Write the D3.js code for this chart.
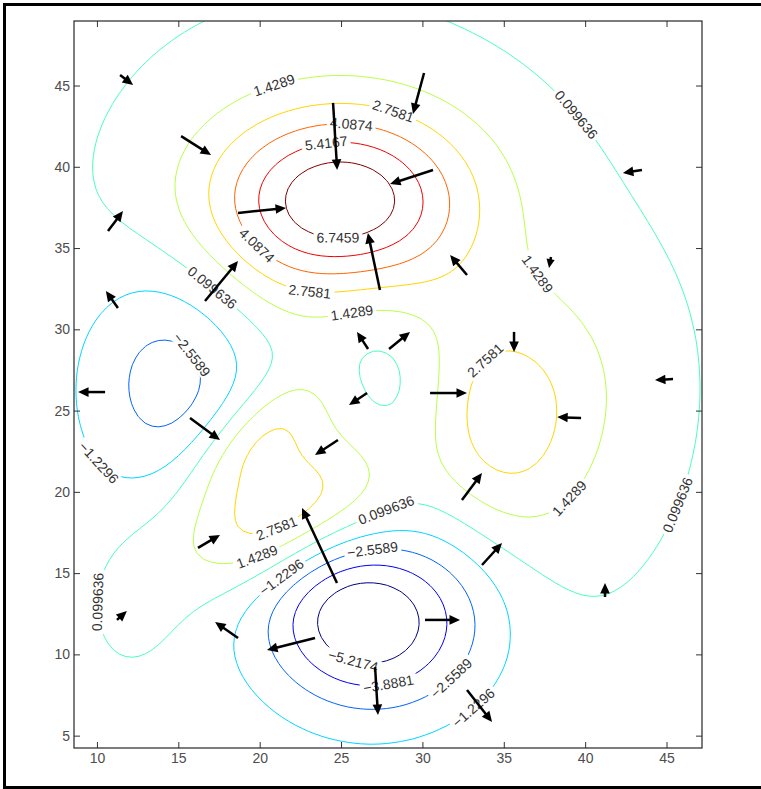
<!DOCTYPE html>
<html lang="en">
<head>
<meta charset="utf-8" />
<title>Contour plot with gradient arrows</title>
<script src="https://d3js.org/d3.v7.min.js"></script>
<style>
body { margin: 0; background: #fff; }
text { font-family: "Liberation Sans", Arial, Helvetica, sans-serif; }
</style>
</head>
<body>
<script>
var xTicks = [10, 15, 20, 25, 30, 35, 40, 45];
var yTicks = [5, 10, 15, 20, 25, 30, 35, 40, 45];
var levels = [-5.2174, -3.8881, -2.5589, -1.2296, 0.099636, 1.4289, 2.7581, 4.0874, 5.4167, 6.7459];
var levelNames = ["\u22125.2174", "\u22123.8881", "\u22122.5589", "\u22121.2296", "0.099636", "1.4289", "2.7581", "4.0874", "5.4167", "6.7459"];

// surface = sum of gaussian bumps (centre, height, widths, tilt)
var bumpX = [24.84, 26.56, 14.66, 19.69, 33.03, 29.73, 28.05, 20.80, 12.43];
var bumpY = [37.86, 12.46, 26.88, 23.22, 22.83, 22.91, 30.40, 18.28, 13.39];
var bumpAmp = [7.54, -7.08, -3.32, 2.67, 3.77, -2.86, 1.65, 4.10, 0.89];
var bumpSx = [5.47, 4.57, 4.00, 3.52, 4.39, 3.02, 19.11, 4.16, 2.33];
var bumpSy = [3.95, 3.93, 5.23, 1.79, 6.18, 7.00, 14.18, 2.65, 3.94];
var bumpAngle = [0.02, -0.25, -0.01, 0.66, -0.70, 0.37, -0.97, 0.47, -0.21];
var base = -0.803;

// gradient arrows: tail and vector
var arrowX = [11.42, 15.17, 10.68, 18.67, 16.64, 11.29, 24.51, 30.10, 30.65, 27.39, 32.74, 37.90, 43.49, 26.66, 27.95, 26.60, 10.50, 15.72, 24.81, 24.75, 16.21, 23.40, 18.67, 30.16, 27.09, 32.74, 11.23, 30.47, 32.43, 35.63, 39.75, 45.40, 33.66, 41.22];
var arrowY = [45.65, 41.89, 36.05, 37.16, 31.74, 31.31, 43.93, 45.77, 39.80, 32.42, 33.34, 34.45, 39.80, 28.79, 28.79, 26.08, 26.14, 24.54, 23.19, 14.39, 16.55, 11.01, 11.01, 12.12, 9.22, 7.81, 12.12, 26.08, 19.50, 29.84, 24.54, 26.94, 15.50, 13.53];
var arrowU = [0.80, 1.84, 0.92, 2.95, 2.03, -0.74, 0.25, -0.68, -2.64, -0.74, -1.04, -0.12, -1.17, -0.68, 1.29, -1.11, -1.66, 1.84, -1.41, -2.15, 1.35, -2.95, -1.41, 2.15, 0.18, 1.54, 0.61, 2.27, 1.23, 0, -1.47, -1.11, 1.23, 0];
var arrowV = [-0.62, -1.17, 1.23, 0.31, 2.46, 1.05, -4.12, -2.52, -0.86, 3.51, 1.23, -0.68, -0.18, 1.05, 1.05, -0.74, 0, -1.35, -0.92, 4.61, 0.80, -0.74, 0.98, 0, -2.95, -1.97, 0.55, 0, 1.66, -1.23, 0.06, -0.06, 1.35, 0.86];

// contour labels: which level and roughly where
var labelLevel = [5, 6, 7, 8, 9, 7, 6, 5, 4, 2, 3, 6, 5, 3, 4, 2, 0, 1, 2, 3, 4, 6, 5, 4, 5, 4];
var labelX = [20.94, 28.19, 25.61, 24.14, 24.81, 19.96, 23.09, 25.67, 17.07, 15.23, 10.43, 21.00, 19.84, 21.56, 27.70, 26.96, 25.86, 27.89, 31.70, 33.05, 10.19, 33.85, 38.95, 46.01, 37.41, 39.87];
var labelY = [44.85, 43.37, 42.33, 41.03, 35.62, 35.31, 32.42, 31.00, 32.54, 27.99, 22.08, 17.84, 15.99, 14.45, 19.07, 16.24, 9.96, 8.30, 8.61, 6.82, 13.22, 28.11, 19.68, 19.07, 33.65, 43.56];

var width = 761, height = 789;
var plot = { left: 74, right: 702, top: 21, bottom: 748 };
var xScale = d3.scaleLinear().domain([8.59, 47.18]).range([plot.left, plot.right]);
var yScale = d3.scaleLinear().domain([4.24, 48.97]).range([plot.bottom, plot.top]);

function field(x, y) {
  var f = base;
  for (var b = 0; b < bumpX.length; b++) {
    var c = Math.cos(bumpAngle[b]), s = Math.sin(bumpAngle[b]);
    var dx = x - bumpX[b], dy = y - bumpY[b];
    var u = dx * c + dy * s, v = -dx * s + dy * c;
    f += bumpAmp[b] * Math.exp(-0.5 * (u * u / (bumpSx[b] * bumpSx[b]) + v * v / (bumpSy[b] * bumpSy[b])));
  }
  return f;
}

// jet colour map over the level range
function jet(t) {
  var cl = function (v) { return Math.max(0, Math.min(1, v)); };
  var r = cl(1.5 - Math.abs(4 * t - 3)), g = cl(1.5 - Math.abs(4 * t - 2)), bl = cl(1.5 - Math.abs(4 * t - 1));
  return d3.rgb(r * 255, g * 255, bl * 255).toString();
}
var colorScale = d3.scaleLinear().domain(d3.extent(levels)).range([0, 1]);
var colorOf = function (v) { return jet(colorScale(v)); };

var svg = d3.select("body").append("svg").attr("width", width).attr("height", height);

// figure frame
svg.append("rect").attr("x", 4.5).attr("y", 4.5).attr("width", 800).attr("height", 783)
  .attr("fill", "none").attr("stroke", "#000").attr("stroke-width", 3);

svg.append("defs").append("clipPath").attr("id", "plotclip").append("rect")
  .attr("x", plot.left).attr("y", plot.top)
  .attr("width", plot.right - plot.left).attr("height", plot.bottom - plot.top);

// sample the surface on a grid a bit larger than the axes, then contour it
var step = 0.4;
var gx0 = xScale.domain()[0] - step, gy0 = yScale.domain()[0] - step;
var nx = Math.ceil((xScale.domain()[1] + step - gx0) / step) + 1;
var ny = Math.ceil((yScale.domain()[1] + step - gy0) / step) + 1;
var values = new Array(nx * ny);
for (var j = 0; j < ny; j++) {
  for (var i = 0; i < nx; i++) values[i + j * nx] = field(gx0 + i * step, gy0 + j * step);
}
var contours = d3.contours().size([nx, ny]).thresholds(levels)(values);

var toPx = function (x, y) {
  return [xScale(gx0 + (x - 0.5) * step), yScale(gy0 + (y - 0.5) * step)];
};
var path = d3.geoPath(d3.geoTransform({
  point: function (x, y) { var q = toPx(x, y); this.stream.point(q[0], q[1]); }
}));

svg.append("g").attr("clip-path", "url(#plotclip)")
  .selectAll("path").data(contours).enter().append("path")
  .attr("d", path)
  .attr("fill", "none")
  .attr("stroke", function (d) { return colorOf(d.value); })
  .attr("stroke-width", 1);

// inline labels, snapped onto their contour line
var labelLayer = svg.append("g");
labelLevel.forEach(function (li, n) {
  var lx = xScale(labelX[n]), ly = yScale(labelY[n]);
  var best = null;
  contours[li].coordinates.forEach(function (poly) {
    poly.forEach(function (ring) {
      var pts = ring.map(function (c) { return toPx(c[0], c[1]); });
      for (var k = 0; k < pts.length - 1; k++) {
        var a = pts[k], bb = pts[k + 1];
        var ex = bb[0] - a[0], ey = bb[1] - a[1], l2 = ex * ex + ey * ey || 1;
        var t = Math.max(0, Math.min(1, ((lx - a[0]) * ex + (ly - a[1]) * ey) / l2));
        var px = a[0] + t * ex, py = a[1] + t * ey;
        var d2 = (px - lx) * (px - lx) + (py - ly) * (py - ly);
        if (!best || d2 < best.d2) best = { d2: d2, px: px, py: py, pts: pts, k: k };
      }
    });
  });
  var px = lx, py = ly, angle = 0;
  if (best && best.d2 < 400) {
    px = best.px; py = best.py;
    var m = best.pts.length - 1;
    var p1 = best.pts[(best.k - 2 + m) % m], p2 = best.pts[(best.k + 3) % m];
    angle = Math.atan2(p2[1] - p1[1], p2[0] - p1[0]) * 180 / Math.PI;
    if (angle >= 90) angle -= 180;
    if (angle < -90) angle += 180;
  }
  var g = labelLayer.append("g").attr("transform", "translate(" + px + "," + py + ") rotate(" + angle + ")");
  var r = g.append("rect").attr("fill", "#fff");
  var tx = g.append("text").text(levelNames[li])
    .attr("text-anchor", "middle").attr("dy", "0.35em")
    .attr("font-size", "14px").attr("fill", "#333");
  var w = tx.node().getComputedTextLength();
  r.attr("x", -w / 2 - 3).attr("y", -7).attr("width", w + 6).attr("height", 14);
});

// gradient arrows
var arrowLayer = svg.append("g");
arrowX.forEach(function (ax, n) {
  var x1 = xScale(ax), y1 = yScale(arrowY[n]);
  var x2 = xScale(ax + arrowU[n]), y2 = yScale(arrowY[n] + arrowV[n]);
  var len = Math.hypot(x2 - x1, y2 - y1), ux = (x2 - x1) / len, uy = (y2 - y1) / len;
  var hl = Math.min(10.5, len * 0.8), hw = hl * 0.46;
  var bx = x2 - ux * hl, by = y2 - uy * hl;
  arrowLayer.append("line").attr("x1", x1).attr("y1", y1)
    .attr("x2", x2 - ux * hl * 0.7).attr("y2", y2 - uy * hl * 0.7)
    .attr("stroke", "#000").attr("stroke-width", 2.5);
  arrowLayer.append("path")
    .attr("d", "M" + x2 + "," + y2 + "L" + (bx - uy * hw) + "," + (by + ux * hw) + "L" + (bx + uy * hw) + "," + (by - ux * hw) + "Z")
    .attr("fill", "#000");
});

// axes box with inward ticks
function styleAxis(g) {
  g.select(".domain").remove();
  g.selectAll(".tick line").attr("stroke", "#333");
  g.selectAll(".tick text").attr("fill", "#4d4d4d").style("font-size", "14px");
}
svg.append("g").attr("transform", "translate(0," + plot.bottom + ")")
  .call(d3.axisBottom(xScale).tickValues(xTicks).tickSizeInner(-6).tickSizeOuter(0).tickPadding(5)).call(styleAxis);
svg.append("g").attr("transform", "translate(0," + plot.top + ")")
  .call(d3.axisTop(xScale).tickValues(xTicks).tickSizeInner(-6).tickSizeOuter(0).tickFormat("")).call(styleAxis);
svg.append("g").attr("transform", "translate(" + plot.left + ",0)")
  .call(d3.axisLeft(yScale).tickValues(yTicks).tickSizeInner(-6).tickSizeOuter(0).tickPadding(4)).call(styleAxis);
svg.append("g").attr("transform", "translate(" + plot.right + ",0)")
  .call(d3.axisRight(yScale).tickValues(yTicks).tickSizeInner(-6).tickSizeOuter(0).tickFormat("")).call(styleAxis);
svg.append("rect").attr("x", plot.left).attr("y", plot.top)
  .attr("width", plot.right - plot.left).attr("height", plot.bottom - plot.top)
  .attr("fill", "none").attr("stroke", "#262626").attr("stroke-width", 1.2);
</script>
</body>
</html>
